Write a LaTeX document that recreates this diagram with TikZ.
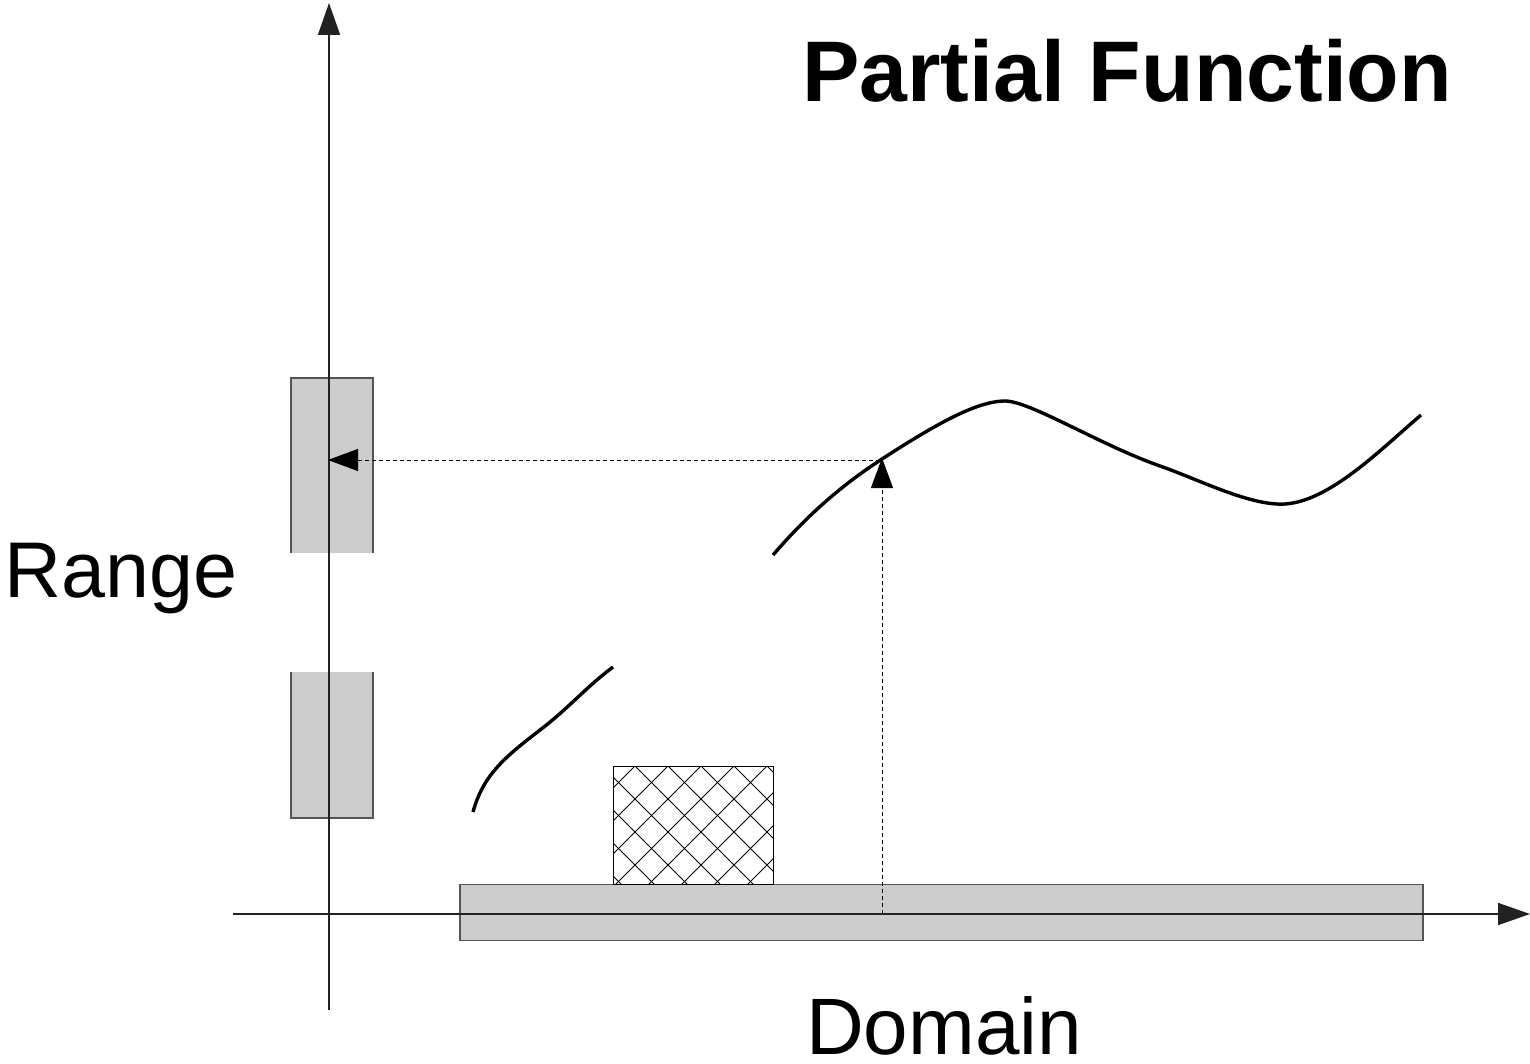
\documentclass[tikz,border=0pt]{standalone}
\usepackage{fontspec}
\setmainfont{Liberation Sans}
\usetikzlibrary{arrows.meta}

\definecolor{barfill}{HTML}{CCCCCC}
\definecolor{barline}{HTML}{555555}
\definecolor{axisline}{HTML}{222222}

\tikzset{
  barbox/.style={fill=barfill, draw=none, inner sep=0pt, outer sep=0pt},
  baredge/.style={draw=barline, line width=1.2pt},
  axis/.style={draw=axisline, line width=1.8pt, -{Triangle[length=32pt,width=22pt]}},
  mapline/.style={draw=black, line width=1pt, dash pattern=on 4pt off 3pt,
                  -{Triangle[length=30pt,width=22pt]}},
  graph/.style={draw=black, line width=3.4pt},
  hatchline/.style={draw=black, line width=1pt},
  lbl/.style={inner sep=0pt, anchor=base west, text depth=0pt}
}

\begin{document}
\begin{tikzpicture}[x=1pt,y=-1pt]
\useasboundingbox (0,0) rectangle (1530,1064);

% range intervals on the vertical axis
\node[barbox, minimum width=82pt, minimum height=175pt] (rhi) at (332,465.5) {};
\node[barbox, minimum width=82pt, minimum height=146pt] (rlo) at (332,745) {};
\draw[baredge] (rhi.south west) |- (rhi.north east) -- (rhi.south east);
\draw[baredge] (rlo.north west) |- (rlo.south east) -- (rlo.north east);

% domain interval on the horizontal axis
\node[barbox, baredge, minimum width=963pt, minimum height=56pt] (dom) at (941.5,912.5) {};

% hatched part of the domain where the function is undefined
\node[inner sep=0pt, outer sep=0pt, minimum width=160pt, minimum height=118pt] (gap) at (693,825) {};
\begin{scope}
  \clip (gap.north west) rectangle (gap.south east);
  \foreach \k in {-8,...,12} {
    \draw[hatchline] (560,{560+131+33*\k}) -- (830,{830+131+33*\k});
    \draw[hatchline] (560,{1401-560+33*\k}) -- (830,{1401-830+33*\k});
  }
\end{scope}
\draw[draw=black, line width=1pt] (gap.north west) rectangle (gap.south east);

% axes
\coordinate (xs) at (233,914);
\coordinate (xe) at (1530,914);
\coordinate (ys) at (329,1010);
\coordinate (ye) at (329,3);
\draw[axis] (xs) -- (xe);
\draw[axis] (ys) -- (ye);

% the two pieces of the function graph
\draw[graph] (473,812) .. controls (483,775) and (505,757) .. (540,730)
                       .. controls (570,707) and (585,688) .. (613,667);
\draw[graph] (773,555) .. controls (810,512) and (845,483) .. (882,459)
                       .. controls (930,428) and (975,401) .. (1005,401)
                       .. controls (1030,401) and (1100,445) .. (1160,466)
                       .. controls (1200,480) and (1250,506) .. (1285,504)
                       .. controls (1330,501) and (1380,450) .. (1421,415);

% mapping of one domain point to its value
\coordinate (px) at (882,914);
\coordinate (pt) at (882,458);
\coordinate (ph) at (880,460);
\coordinate (py) at (328,460);
\draw[mapline] (px) -- (pt);
\draw[mapline] (ph) -- (py);

% labels
\node[lbl, font=\fontsize{86}{100}\selectfont\bfseries] (title) at (802,102) {Partial Function};
\node[lbl, font=\fontsize{79}{92}\selectfont] (range) at (4,597) {Range};
\node[lbl, font=\fontsize{80}{94}\selectfont] (domain) at (806,1054) {Domain};
\end{tikzpicture}
\end{document}
